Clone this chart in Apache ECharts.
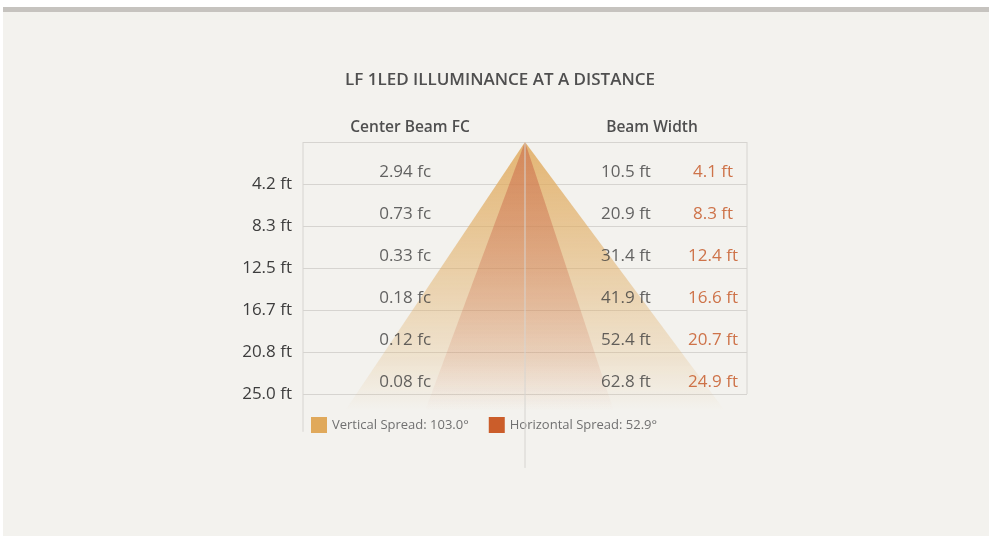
<!DOCTYPE html>
<html>
<head>
<meta charset="utf-8">
<script src="https://cdn.jsdelivr.net/npm/echarts@6/dist/echarts.min.js"></script>
<style>
  html, body { margin: 0; padding: 0; background: #fff; }
  #bg { position: absolute; left: 3px; top: 7px; width: 986px; height: 524px; background: #f3f2ee; border-top: 5px solid #c6c3bf; }
  #chart { position: absolute; left: 0; top: 0; width: 989px; height: 536px; }
</style>
</head>
<body>
<div id="bg"></div>
<div id="chart"></div>
<script>
// distance rows, top to bottom
const distances = ['4.2 ft', '8.3 ft', '12.5 ft', '16.7 ft', '20.8 ft', '25.0 ft']
const centerBeamFc = ['2.94 fc', '0.73 fc', '0.33 fc', '0.18 fc', '0.12 fc', '0.08 fc']
const verticalWidth = ['10.5 ft', '20.9 ft', '31.4 ft', '41.9 ft', '52.4 ft', '62.8 ft']
const horizontalWidth = ['4.1 ft', '8.3 ft', '12.4 ft', '16.6 ft', '20.7 ft', '24.9 ft']
const verticalSpread = '103.0°'
const horizontalSpread = '52.9°'

// beam cones: apex at the fixture, base just past the last row
const verticalCone = [[0, 0], [-0.81, 6.4], [0.9, 6.4]]
const horizontalCone = [[0, 0], [-0.45, 6.4], [0.4, 6.4]]

const FONT = 'Open Sans'
const vName = 'Vertical Spread: ' + verticalSpread
const hName = 'Horizontal Spread: ' + horizontalSpread

function cone(points, rgb, a0) {
  return function(params, api) {
    return {
      type: 'polygon',
      shape: { points: points.map(p => api.coord(p)) },
      style: {
        fill: new echarts.graphic.LinearGradient(0, 0, 0, 1, [
          { offset: 0, color: 'rgba(' + rgb + ',' + a0 + ')' },
          { offset: 0.45, color: 'rgba(' + rgb + ',' + (a0 * 0.6) + ')' },
          { offset: 0.8, color: 'rgba(' + rgb + ',' + (a0 * 0.25) + ')' },
          { offset: 1, color: 'rgba(' + rgb + ',0)' }
        ])
      }
    }
  }
}

function rowLabels(texts, x, color) {
  return {
    type: 'scatter',
    silent: true,
    symbolSize: 1,
    itemStyle: { color: 'rgba(0,0,0,0)' },
    z: 5,
    label: {
      show: true,
      position: 'inside',
      offset: [0, 9],
      fontFamily: FONT,
      fontSize: 17,
      color: color,
      formatter: p => texts[p.dataIndex]
    },
    data: texts.map((t, i) => [x, i + 0.5])
  }
}

function guide(points) {
  return {
    type: 'line',
    silent: true,
    clip: false,
    symbol: 'none',
    z: 4,
    lineStyle: { color: '#d6d4d0', width: 1 },
    data: points
  }
}

const chart = echarts.init(document.getElementById('chart'))
chart.setOption({
  animation: false,
  textStyle: { fontFamily: FONT },
  title: [
    { text: 'LF 1LED ILLUMINANCE AT A DISTANCE', left: 500, top: 72, padding: 0, textAlign: 'center',
      textStyle: { fontFamily: FONT, fontSize: 17, fontWeight: 600, color: '#4f4f4f' } },
    { text: 'Center Beam FC', left: 410, top: 120, padding: 0, textAlign: 'center',
      textStyle: { fontFamily: FONT, fontSize: 15.5, fontWeight: 600, color: '#4f4f4f' } },
    { text: 'Beam Width', left: 652, top: 120, padding: 0, textAlign: 'center',
      textStyle: { fontFamily: FONT, fontSize: 15.5, fontWeight: 600, color: '#4f4f4f' } }
  ],
  legend: {
    left: 311,
    top: 417,
    padding: 0,
    itemWidth: 16,
    itemHeight: 16,
    itemGap: 20,
    icon: 'rect',
    selectedMode: false,
    textStyle: { fontFamily: FONT, fontSize: 13, color: '#707070' },
    data: [
      { name: vName, itemStyle: { color: '#e0a95b' } },
      { name: hName, itemStyle: { color: '#cb5d2a' } }
    ]
  },
  grid: { left: 303, top: 142, width: 444, height: 252 },
  xAxis: { type: 'value', min: -1, max: 1, show: false },
  yAxis: {
    type: 'value',
    inverse: true,
    min: 0,
    max: 6,
    interval: 1,
    axisLine: { show: false },
    axisTick: { show: false },
    splitLine: { lineStyle: { color: '#d6d4d0' } },
    axisLabel: {
      margin: 11,
      padding: [3, 0, 0, 0],
      fontFamily: FONT,
      fontSize: 17,
      color: '#3d3d3d',
      formatter: v => (v === 0 ? '' : distances[v - 1])
    }
  },
  series: [
    { type: 'custom', name: vName, silent: true, z: 2, data: [0], renderItem: cone(verticalCone, '224,169,91', 0.84) },
    { type: 'custom', name: hName, silent: true, z: 3, data: [0], renderItem: cone(horizontalCone, '200,100,70', 0.56) },
    guide([[-1, 0], [-1, 6.9]]),
    guide([[1, 0], [1, 6]]),
    guide([[0, 0], [0, 7.76]]),
    rowLabels(centerBeamFc, -0.54, '#3d3d3d'),
    rowLabels(verticalWidth, 0.455, '#3d3d3d'),
    rowLabels(horizontalWidth, 0.847, '#c4521f')
  ]
})
</script>
</body>
</html>
